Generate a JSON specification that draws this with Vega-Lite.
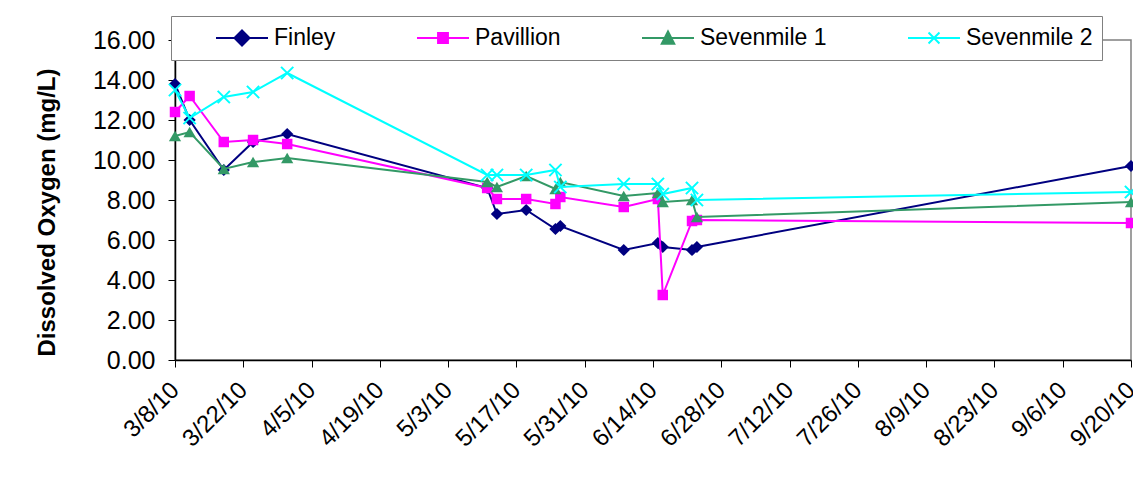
{
  "$schema": "https://vega.github.io/schema/vega-lite/v6.json",
  "width": 956,
  "height": 320,
  "autosize": {"type": "none"},
  "padding": {"left": 175, "top": 40, "right": 2, "bottom": 138},
  "background": "white",
  "config": {
    "font": "Liberation Sans",
    "view": {"stroke": "#808080", "strokeWidth": 1.5},
    "axis": {"grid": false, "domainColor": "black", "tickColor": "black", "labelColor": "black", "titleColor": "black", "labelFont": "Liberation Sans", "titleFont": "Liberation Sans"},
    "legend": {
      "orient": "none", "legendX": -4, "legendY": -24, "direction": "horizontal",
      "titleFontSize": 23, "titlePadding": 35, "titleOrient": "left",
      "padding": 9, "strokeColor": "#808080", "fillColor": "white",
      "labelFontSize": 23, "labelFont": "Liberation Sans", "labelColor": "black", "labelOffset": 5, "labelLimit": 300,
      "columnPadding": 80, "symbolSize": 2704, "symbolStrokeWidth": 2, "symbolOpacity": 1, "clipHeight": 26
    }
  },
  "data": {
    "values": [
      {"site": "Finley", "date": "2010-03-08", "do": 13.8},
      {"site": "Finley", "date": "2010-03-11", "do": 12.0},
      {"site": "Finley", "date": "2010-03-18", "do": 9.5},
      {"site": "Finley", "date": "2010-03-24", "do": 10.9},
      {"site": "Finley", "date": "2010-03-31", "do": 11.3},
      {"site": "Finley", "date": "2010-05-11", "do": 8.6},
      {"site": "Finley", "date": "2010-05-13", "do": 7.3},
      {"site": "Finley", "date": "2010-05-19", "do": 7.5},
      {"site": "Finley", "date": "2010-05-25", "do": 6.55},
      {"site": "Finley", "date": "2010-05-26", "do": 6.7},
      {"site": "Finley", "date": "2010-06-08", "do": 5.5},
      {"site": "Finley", "date": "2010-06-15", "do": 5.85},
      {"site": "Finley", "date": "2010-06-16", "do": 5.65},
      {"site": "Finley", "date": "2010-06-22", "do": 5.5},
      {"site": "Finley", "date": "2010-06-23", "do": 5.65},
      {"site": "Finley", "date": "2010-09-20", "do": 9.7},
      {"site": "Pavillion", "date": "2010-03-08", "do": 12.4},
      {"site": "Pavillion", "date": "2010-03-11", "do": 13.2},
      {"site": "Pavillion", "date": "2010-03-18", "do": 10.9},
      {"site": "Pavillion", "date": "2010-03-24", "do": 11.0},
      {"site": "Pavillion", "date": "2010-03-31", "do": 10.8},
      {"site": "Pavillion", "date": "2010-05-11", "do": 8.6},
      {"site": "Pavillion", "date": "2010-05-13", "do": 8.05},
      {"site": "Pavillion", "date": "2010-05-19", "do": 8.05},
      {"site": "Pavillion", "date": "2010-05-25", "do": 7.8},
      {"site": "Pavillion", "date": "2010-05-26", "do": 8.15},
      {"site": "Pavillion", "date": "2010-06-08", "do": 7.65},
      {"site": "Pavillion", "date": "2010-06-15", "do": 8.05},
      {"site": "Pavillion", "date": "2010-06-16", "do": 3.25},
      {"site": "Pavillion", "date": "2010-06-22", "do": 6.95},
      {"site": "Pavillion", "date": "2010-06-23", "do": 7.0},
      {"site": "Pavillion", "date": "2010-09-20", "do": 6.85},
      {"site": "Sevenmile 1", "date": "2010-03-08", "do": 11.2},
      {"site": "Sevenmile 1", "date": "2010-03-11", "do": 11.4},
      {"site": "Sevenmile 1", "date": "2010-03-18", "do": 9.55},
      {"site": "Sevenmile 1", "date": "2010-03-24", "do": 9.9},
      {"site": "Sevenmile 1", "date": "2010-03-31", "do": 10.1},
      {"site": "Sevenmile 1", "date": "2010-05-11", "do": 8.9},
      {"site": "Sevenmile 1", "date": "2010-05-13", "do": 8.65},
      {"site": "Sevenmile 1", "date": "2010-05-19", "do": 9.2},
      {"site": "Sevenmile 1", "date": "2010-05-25", "do": 8.55},
      {"site": "Sevenmile 1", "date": "2010-05-26", "do": 8.9},
      {"site": "Sevenmile 1", "date": "2010-06-08", "do": 8.2},
      {"site": "Sevenmile 1", "date": "2010-06-15", "do": 8.35},
      {"site": "Sevenmile 1", "date": "2010-06-16", "do": 7.9},
      {"site": "Sevenmile 1", "date": "2010-06-22", "do": 8.0},
      {"site": "Sevenmile 1", "date": "2010-06-23", "do": 7.15},
      {"site": "Sevenmile 1", "date": "2010-09-20", "do": 7.9},
      {"site": "Sevenmile 2", "date": "2010-03-08", "do": 13.5},
      {"site": "Sevenmile 2", "date": "2010-03-11", "do": 12.1},
      {"site": "Sevenmile 2", "date": "2010-03-18", "do": 13.15},
      {"site": "Sevenmile 2", "date": "2010-03-24", "do": 13.4},
      {"site": "Sevenmile 2", "date": "2010-03-31", "do": 14.35},
      {"site": "Sevenmile 2", "date": "2010-05-11", "do": 9.25},
      {"site": "Sevenmile 2", "date": "2010-05-13", "do": 9.25},
      {"site": "Sevenmile 2", "date": "2010-05-19", "do": 9.25},
      {"site": "Sevenmile 2", "date": "2010-05-25", "do": 9.5},
      {"site": "Sevenmile 2", "date": "2010-05-26", "do": 8.65},
      {"site": "Sevenmile 2", "date": "2010-06-08", "do": 8.8},
      {"site": "Sevenmile 2", "date": "2010-06-15", "do": 8.8},
      {"site": "Sevenmile 2", "date": "2010-06-16", "do": 8.3},
      {"site": "Sevenmile 2", "date": "2010-06-22", "do": 8.6},
      {"site": "Sevenmile 2", "date": "2010-06-23", "do": 8.0},
      {"site": "Sevenmile 2", "date": "2010-09-20", "do": 8.4}
    ]
  },
  "encoding": {
    "x": {
      "field": "date", "type": "temporal", "title": null,
      "scale": {"type": "utc", "domain": [{"year": 2010, "month": 3, "date": 8, "utc": true}, {"year": 2010, "month": 9, "date": 20, "utc": true}], "nice": false},
      "axis": {
        "values": [
          {"year": 2010, "month": 3, "date": 8, "utc": true},
          {"year": 2010, "month": 3, "date": 22, "utc": true},
          {"year": 2010, "month": 4, "date": 5, "utc": true},
          {"year": 2010, "month": 4, "date": 19, "utc": true},
          {"year": 2010, "month": 5, "date": 3, "utc": true},
          {"year": 2010, "month": 5, "date": 17, "utc": true},
          {"year": 2010, "month": 5, "date": 31, "utc": true},
          {"year": 2010, "month": 6, "date": 14, "utc": true},
          {"year": 2010, "month": 6, "date": 28, "utc": true},
          {"year": 2010, "month": 7, "date": 12, "utc": true},
          {"year": 2010, "month": 7, "date": 26, "utc": true},
          {"year": 2010, "month": 8, "date": 9, "utc": true},
          {"year": 2010, "month": 8, "date": 23, "utc": true},
          {"year": 2010, "month": 9, "date": 6, "utc": true},
          {"year": 2010, "month": 9, "date": 20, "utc": true}
        ],
        "labelExpr": "utcFormat(datum.value, '%-m/%-d/%y')",
        "labelAngle": -45, "labelAlign": "right", "labelBaseline": "middle",
        "labelFontSize": 24, "labelPadding": 19, "tickSize": 7,
        "labelOverlap": false, "labelFlush": false, "domainWidth": 1.5
      }
    },
    "y": {
      "field": "do", "type": "quantitative",
      "title": "Dissolved Oxygen (mg/L)",
      "scale": {"domain": [0, 16], "nice": false, "zero": true},
      "axis": {
        "values": [0, 2, 4, 6, 8, 10, 12, 14, 16],
        "format": ".2f", "labelFontSize": 25, "labelPadding": 13, "tickSize": 7,
        "titleFontSize": 24, "titleFontWeight": "bold", "titlePadding": 33, "titleY": 172,
        "domainWidth": 1.5
      }
    },
    "color": {
      "field": "site", "type": "nominal", "title": " ",
      "scale": {"domain": ["Finley", "Pavillion", "Sevenmile 1", "Sevenmile 2"], "range": ["#000080", "#FF00FF", "#339966", "#00FFFF"]},
      "legend": {
        "title": " ",
        "encode": {"symbols": {"update": {"opacity": {"value": 1}, "stroke": {"scale": "color", "field": "value"}, "fill": {"scale": "color", "field": "value"}, "strokeWidth": {"value": 2}}}}
      }
    }
  },
  "layer": [
    {
      "transform": [{"filter": {"field": "site", "equal": "Finley"}}],
      "mark": {"type": "line", "strokeWidth": 2, "point": {"shape": "diamond", "size": 150, "filled": true}}
    },
    {
      "transform": [{"filter": {"field": "site", "equal": "Pavillion"}}],
      "mark": {"type": "line", "strokeWidth": 2, "point": {"shape": "square", "size": 110, "filled": true}}
    },
    {
      "transform": [{"filter": {"field": "site", "equal": "Sevenmile 1"}}],
      "mark": {"type": "line", "strokeWidth": 2, "point": {"shape": "triangle-up", "size": 150, "filled": true}}
    },
    {
      "transform": [{"filter": {"field": "site", "equal": "Sevenmile 2"}}],
      "mark": {"type": "line", "strokeWidth": 2, "point": {"shape": "M-1,-1L1,1M-1,1L1,-1", "size": 150, "filled": false, "strokeWidth": 2}}
    },
    {
      "mark": {"type": "point", "opacity": 0, "filled": true},
      "encoding": {
        "shape": {
          "field": "site", "type": "nominal", "title": " ",
          "scale": {
            "domain": ["Finley", "Pavillion", "Sevenmile 1", "Sevenmile 2"],
            "range": [
              "M-1,0H1M0,-0.29L0.29,0L0,0.29L-0.29,0Z",
              "M-1,0H1M-0.19,-0.19H0.19V0.19H-0.19Z",
              "M-1,0H1M0,-0.25L0.24,0.22H-0.24Z",
              "M-1,0H1M-0.21,-0.21L0.21,0.21M-0.21,0.21L0.21,-0.21"
            ]
          },
          "legend": {
            "title": " ",
            "encode": {"symbols": {"update": {"opacity": {"value": 1}, "stroke": {"scale": "color", "field": "value"}, "fill": {"scale": "color", "field": "value"}, "strokeWidth": {"value": 2}}}}
          }
        }
      }
    }
  ]
}
